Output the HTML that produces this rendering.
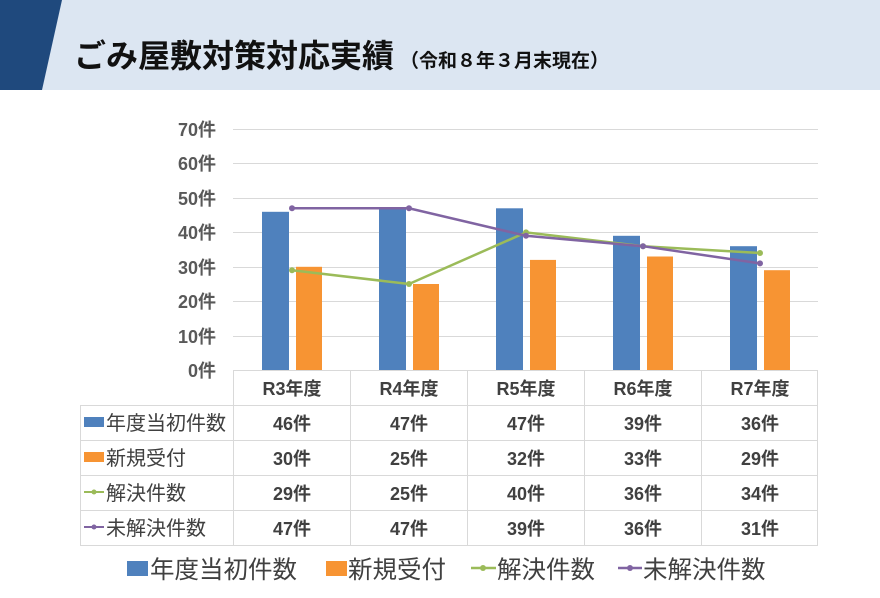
<!DOCTYPE html>
<html><head><meta charset="utf-8"><style>
body{margin:0;width:880px;height:593px;background:#fff;overflow:hidden;font-family:"Liberation Sans","Noto Sans CJK JP",sans-serif}
</style></head><body>
<svg width="880" height="593" xmlns="http://www.w3.org/2000/svg" font-family="Liberation Sans, Noto Sans CJK JP, sans-serif">
<rect x="0" y="0" width="880" height="90" fill="#dce6f2"/>
<polygon points="0,0 62,0 42,90 0,90" fill="#1f497d"/>
<text x="74" y="67" font-size="32" font-weight="bold" fill="#111">ごみ屋敷対策対応実績<tspan font-size="19" dx="6">（令和８年３月末現在）</tspan></text>
<g stroke="#d9d9d9" stroke-width="1">
<line x1="233" x2="818" y1="129.5" y2="129.5"/><line x1="233" x2="818" y1="163.5" y2="163.5"/>
<line x1="233" x2="818" y1="198.5" y2="198.5"/><line x1="233" x2="818" y1="232.5" y2="232.5"/>
<line x1="233" x2="818" y1="267.5" y2="267.5"/><line x1="233" x2="818" y1="301.5" y2="301.5"/>
<line x1="233" x2="818" y1="336.5" y2="336.5"/>
</g>
<g font-size="18" fill="#595959" text-anchor="end" font-weight="bold">
<text x="216" y="136">70件</text><text x="216" y="170">60件</text><text x="216" y="205">50件</text>
<text x="216" y="239">40件</text><text x="216" y="274">30件</text><text x="216" y="308">20件</text>
<text x="216" y="343">10件</text><text x="216" y="377">0件</text>
</g>
<g fill="#4f81bd">
<rect x="262" y="211.8" width="27" height="158.2"/><rect x="379" y="208.3" width="27" height="161.7"/>
<rect x="496" y="208.3" width="27" height="161.7"/><rect x="613" y="235.8" width="27" height="134.2"/>
<rect x="730" y="246.2" width="27" height="123.8"/>
</g>
<g fill="#f79433">
<rect x="296" y="266.8" width="26" height="103.2"/><rect x="413" y="284" width="26" height="86"/>
<rect x="530" y="259.9" width="26" height="110.1"/><rect x="647" y="256.5" width="26" height="113.5"/>
<rect x="764" y="270.2" width="26" height="99.8"/>
</g>
<polyline points="292,270.2 409,284 526,232.4 643,246.2 760,253" fill="none" stroke="#9bbb59" stroke-width="2.5"/>
<polyline points="292,208.3 409,208.3 526,235.8 643,246.2 760,263.4" fill="none" stroke="#8064a2" stroke-width="2.5"/>
<g fill="#9bbb59"><circle cx="292" cy="270.2" r="3"/><circle cx="409" cy="284" r="3"/><circle cx="526" cy="232.4" r="3"/><circle cx="643" cy="246.2" r="3"/><circle cx="760" cy="253" r="3"/></g>
<g fill="#8064a2"><circle cx="292" cy="208.3" r="3"/><circle cx="409" cy="208.3" r="3"/><circle cx="526" cy="235.8" r="3"/><circle cx="643" cy="246.2" r="3"/><circle cx="760" cy="263.4" r="3"/></g>
<g stroke="#d9d9d9" stroke-width="1" fill="none">
<line x1="233.5" y1="370" x2="233.5" y2="545"/>
<line x1="350.5" y1="370" x2="350.5" y2="545"/><line x1="467.5" y1="370" x2="467.5" y2="545"/>
<line x1="584.5" y1="370" x2="584.5" y2="545"/><line x1="701.5" y1="370" x2="701.5" y2="545"/>
<line x1="817.5" y1="370" x2="817.5" y2="545"/>
<line x1="233" y1="370.5" x2="818" y2="370.5"/>
<line x1="80" y1="405.5" x2="818" y2="405.5"/><line x1="80" y1="440.5" x2="818" y2="440.5"/>
<line x1="80" y1="475.5" x2="818" y2="475.5"/><line x1="80" y1="510.5" x2="818" y2="510.5"/>
<line x1="80" y1="545.5" x2="818" y2="545.5"/><line x1="80.5" y1="405" x2="80.5" y2="545"/>
</g>
<g font-size="18" fill="#404040" text-anchor="middle" font-weight="bold">
<text x="292" y="395">R3年度</text><text x="409" y="395">R4年度</text><text x="526" y="395">R5年度</text><text x="643" y="395">R6年度</text><text x="760" y="395">R7年度</text>
<text x="292" y="430">46件</text><text x="409" y="430">47件</text><text x="526" y="430">47件</text><text x="643" y="430">39件</text><text x="760" y="430">36件</text>
<text x="292" y="465">30件</text><text x="409" y="465">25件</text><text x="526" y="465">32件</text><text x="643" y="465">33件</text><text x="760" y="465">29件</text>
<text x="292" y="500">29件</text><text x="409" y="500">25件</text><text x="526" y="500">40件</text><text x="643" y="500">36件</text><text x="760" y="500">34件</text>
<text x="292" y="535">47件</text><text x="409" y="535">47件</text><text x="526" y="535">39件</text><text x="643" y="535">36件</text><text x="760" y="535">31件</text>
</g>
<g font-size="20" fill="#404040">
<rect x="84" y="417" width="20" height="10" fill="#4f81bd"/><text x="106" y="430">年度当初件数</text>
<rect x="84" y="452" width="20" height="10" fill="#f79433"/><text x="106" y="465">新規受付</text>
<line x1="84" y1="492" x2="104" y2="492" stroke="#9bbb59" stroke-width="2"/><circle cx="94" cy="492" r="2.5" fill="#9bbb59"/><text x="106" y="500">解決件数</text>
<line x1="84" y1="527" x2="104" y2="527" stroke="#8064a2" stroke-width="2"/><circle cx="94" cy="527" r="2.5" fill="#8064a2"/><text x="106" y="535">未解決件数</text>
</g>
<g font-size="24.5" fill="#404040">
<rect x="127" y="561" width="21" height="15" fill="#4f81bd"/><text x="150" y="578">年度当初件数</text>
<rect x="326" y="561" width="21" height="15" fill="#f79433"/><text x="348" y="578">新規受付</text>
<line x1="471" y1="568" x2="496" y2="568" stroke="#9bbb59" stroke-width="2.5"/><circle cx="483" cy="568" r="3" fill="#9bbb59"/><text x="497" y="578">解決件数</text>
<line x1="618" y1="568" x2="642" y2="568" stroke="#8064a2" stroke-width="2.5"/><circle cx="630" cy="568" r="3" fill="#8064a2"/><text x="643" y="578">未解決件数</text>
</g>
</svg>
</body></html>
